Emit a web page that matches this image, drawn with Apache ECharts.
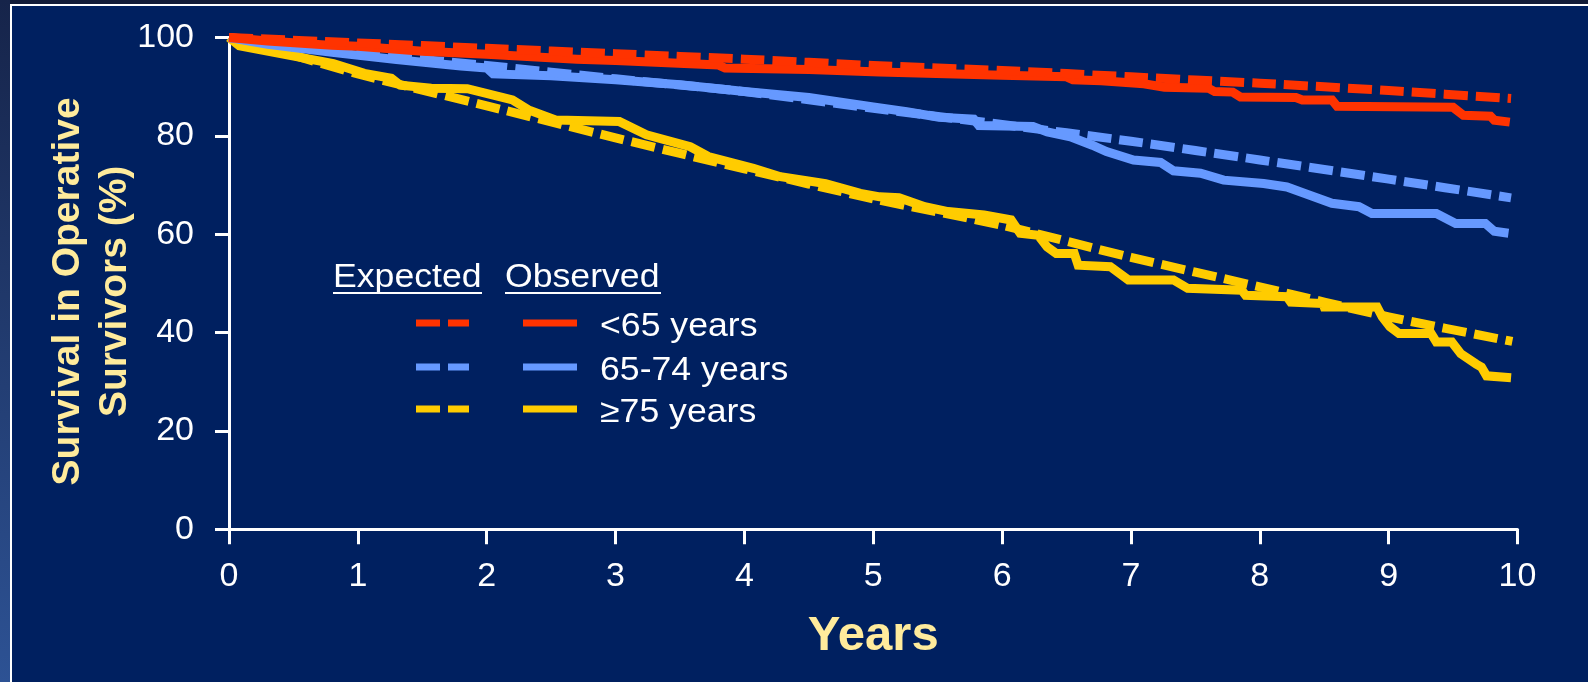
<!DOCTYPE html>
<html>
<head>
<meta charset="utf-8">
<script src="https://cdn.jsdelivr.net/npm/echarts@6/dist/echarts.min.js"></script>
<style>
html,body{margin:0;padding:0;background:#002060;}
#c{width:1588px;height:682px;}
</style>
</head>
<body>
<div id="c"></div>
<script>
// ---- data ----
const groupNames = ['<65 years', '65-74 years', '\u226575 years'];
const legendHeaders = ['Expected', 'Observed'];
const xTicks = [0, 1, 2, 3, 4, 5, 6, 7, 8, 9, 10];
const yTicks = [0, 20, 40, 60, 80, 100];

// Expected (dashed)
const redExpT = [0, 1, 2, 3, 4, 5, 6, 7, 8, 9, 9.95];
const redExpV = [100, 98.9, 97.8, 96.7, 95.6, 94.3, 93.3, 92.0, 90.7, 89.2, 87.6];
const blueExpT = [0, 1, 2, 3, 4, 5, 6, 7, 8, 9, 9.95];
const blueExpV = [100, 96.8, 94.3, 91.6, 89.0, 85.6, 82.3, 78.9, 75.1, 71.2, 67.4];
const yellowExpT = [0, 0.5, 1, 2, 3, 4, 5, 6, 7, 8, 9, 9.96];
const yellowExpV = [100, 96.4, 92.6, 86.1, 79.6, 73.3, 67.2, 61.8, 55.3, 49.3, 43.2, 38.2];

// Observed (solid)
const redObsT = [0, 0.3, 0.8, 1.0, 1.5, 2.0, 2.7, 3.0, 3.8, 3.85, 4.5, 5.05, 6.0, 6.5, 6.55, 6.77, 7.1, 7.26, 7.6, 7.65, 7.79, 7.85, 8.28, 8.33, 8.56, 8.6, 9.5, 9.58, 9.79, 9.82, 9.94];
const redObsV = [100, 99.3, 98.4, 98.2, 97.2, 96.6, 95.6, 95.3, 94.4, 93.8, 93.5, 93.0, 92.3, 92.0, 91.4, 91.2, 90.6, 89.9, 89.7, 89.0, 88.9, 87.9, 87.8, 87.3, 87.3, 86.0, 85.8, 84.2, 84.0, 83.2, 82.8];

const blueObsT = [0, 0.3, 0.8, 1.3, 1.8, 2.0, 2.05, 2.5, 3.0, 3.5, 4.0, 4.5, 5.0, 5.26, 5.51, 5.78, 5.82, 6.24, 6.35, 6.53, 6.70, 6.81, 7.02, 7.23, 7.33, 7.54, 7.72, 8.03, 8.21, 8.35, 8.56, 8.77, 8.87, 9.37, 9.52, 9.75, 9.82, 9.93];
const blueObsV = [100, 98.6, 97.0, 95.5, 94.2, 93.8, 92.6, 92.2, 91.4, 90.4, 89.0, 87.8, 85.9, 84.9, 83.8, 83.4, 82.1, 81.9, 80.8, 79.8, 78.1, 76.8, 75.1, 74.6, 72.9, 72.4, 71.0, 70.3, 69.6, 68.3, 66.3, 65.6, 64.2, 64.2, 62.2, 62.2, 60.6, 60.2];

const yellowObsT = [0, 0.08, 0.81, 1.05, 1.26, 1.33, 1.57, 1.85, 2.2, 2.33, 2.54, 3.03, 3.24, 3.58, 3.72, 4.07, 4.28, 4.63, 4.9, 5.05, 5.2, 5.40, 5.58, 5.86, 6.07, 6.14, 6.28, 6.35, 6.42, 6.56, 6.59, 6.84, 6.98, 7.33, 7.44, 7.86, 7.89, 8.21, 8.24, 8.49, 8.5, 8.91, 8.95, 9.01, 9.08, 9.33, 9.37, 9.49, 9.56, 9.68, 9.72, 9.76, 9.95];
const yellowObsV = [100, 98.3, 94.7, 92.7, 91.7, 90.3, 89.7, 89.6, 87.3, 85.2, 83.2, 82.9, 80.2, 77.8, 75.8, 73.4, 71.7, 70.3, 68.3, 67.6, 67.4, 65.6, 64.6, 63.9, 62.9, 60.2, 59.8, 57.4, 56.1, 56.1, 53.7, 53.4, 50.7, 50.7, 49.0, 48.6, 47.6, 47.3, 46.2, 45.9, 45.2, 45.2, 43.2, 41.2, 39.8, 39.8, 38.1, 38.1, 35.7, 33.6, 33.0, 31.2, 30.8];

// ---- styles ----
const RED = '#FF3300', BLUE = '#6699FF', YELLOW = '#FFCC00';
const TITLE = '#FFEB9C';
const FONT = '"Liberation Sans", Arial, sans-serif';
const DASH = [24, 8];
const LW = 9;

function pairs(T, V) { return T.map((t, i) => [t, V[i]]); }

function lineSeries(name, T, V, color, dashed) {
  return {
    name: name,
    type: 'line',
    data: pairs(T, V),
    showSymbol: false,
    symbol: 'none',
    smooth: dashed ? 0.25 : false,
    animation: false,
    lineStyle: { color: color, width: LW, type: dashed ? DASH : 'solid', cap: 'butt', join: 'miter' },
    emphasis: { disabled: true }
  };
}

const chart = echarts.init(document.getElementById('c'), null, { renderer: 'canvas' });

// legend drawn as graphic (two-column layout with underlined headers)
const rowY = [323, 367, 409];
const colors = [RED, BLUE, YELLOW];
const legendGraphics = [];
legendGraphics.push({ type: 'text', x: 333, y: 278, scaleX: 1.08,
  style: { text: legendHeaders[0], fill: '#fff', fontSize: 33, fontFamily: FONT, verticalAlign: 'middle', align: 'left' } });
legendGraphics.push({ type: 'text', x: 505, y: 278, scaleX: 1.08,
  style: { text: legendHeaders[1], fill: '#fff', fontSize: 33, fontFamily: FONT, verticalAlign: 'middle', align: 'left' } });
legendGraphics.push({ type: 'line', shape: { x1: 333, y1: 293, x2: 482, y2: 293 }, style: { stroke: '#fff', lineWidth: 2 } });
legendGraphics.push({ type: 'line', shape: { x1: 505, y1: 293, x2: 661, y2: 293 }, style: { stroke: '#fff', lineWidth: 2 } });
groupNames.forEach((g, i) => {
  legendGraphics.push({ type: 'line', shape: { x1: 416, y1: rowY[i], x2: 469, y2: rowY[i] },
    style: { stroke: colors[i], lineWidth: 7, lineDash: DASH, lineCap: 'butt' } });
  legendGraphics.push({ type: 'line', shape: { x1: 523, y1: rowY[i], x2: 577, y2: rowY[i] },
    style: { stroke: colors[i], lineWidth: 7, lineCap: 'butt' } });
  legendGraphics.push({ type: 'text', x: 600, y: rowY[i] + 4, scaleX: 1.08,
    style: { text: g, fill: '#fff', fontSize: 33, fontFamily: FONT, verticalAlign: 'middle', align: 'left' } });
});

// slide frame
const frame = [
  { type: 'rect', shape: { x: 0, y: 0, width: 1588, height: 4 }, style: { fill: '#131c38' } },
  { type: 'rect', shape: { x: 0, y: 0, width: 10, height: 682 },
    style: { fill: new echarts.graphic.LinearGradient(0, 0, 0, 1, [{ offset: 0, color: '#16244a' }, { offset: 1, color: '#2d5294' }]) } },
  { type: 'rect', shape: { x: 10, y: 4, width: 1578, height: 2 }, style: { fill: '#ffffff' } },
  { type: 'rect', shape: { x: 10, y: 4, width: 2, height: 678 }, style: { fill: '#ffffff' } }
];

chart.setOption({
  backgroundColor: '#002060',
  animation: false,
  textStyle: { fontFamily: FONT },
  grid: { left: 229, right: 70.5, top: 37.5, bottom: 152.7, containLabel: false },
  xAxis: {
    type: 'value', min: xTicks[0], max: xTicks[xTicks.length - 1], interval: 1,
    name: 'Years', nameLocation: 'middle', nameGap: 81, nameMoveOverlap: false,
    nameTextStyle: { color: TITLE, fontSize: 49, fontWeight: 'bold', fontFamily: FONT, lineHeight: 52 },
    axisLine: { show: true, lineStyle: { color: '#fff', width: 3 } },
    axisTick: { show: true, inside: false, length: 15, lineStyle: { color: '#fff', width: 3 } },
    axisLabel: { color: '#fff', fontSize: 34, fontFamily: FONT, margin: 30, lineHeight: 34 },
    splitLine: { show: false }
  },
  yAxis: {
    type: 'value', min: yTicks[0], max: yTicks[yTicks.length - 1], interval: 20,
    name: 'Survival in Operative\nSurvivors (%)', nameLocation: 'middle', nameGap: 90, nameMoveOverlap: false,
    nameTextStyle: { color: TITLE, fontSize: 39, fontWeight: 'bold', fontFamily: FONT, lineHeight: 47, align: 'center', padding: [0, 16, 0, 0] },
    axisLine: { show: true, lineStyle: { color: '#fff', width: 3 } },
    axisTick: { show: true, inside: false, length: 14, lineStyle: { color: '#fff', width: 3 } },
    axisLabel: { color: '#fff', fontSize: 34, fontFamily: FONT, margin: 35 },
    splitLine: { show: false }
  },
  series: [
    lineSeries('Observed ' + groupNames[2], yellowObsT, yellowObsV, YELLOW, false),
    lineSeries('Expected ' + groupNames[2], yellowExpT, yellowExpV, YELLOW, true),
    lineSeries('Observed ' + groupNames[1], blueObsT, blueObsV, BLUE, false),
    lineSeries('Expected ' + groupNames[1], blueExpT, blueExpV, BLUE, true),
    lineSeries('Observed ' + groupNames[0], redObsT, redObsV, RED, false),
    lineSeries('Expected ' + groupNames[0], redExpT, redExpV, RED, true)
  ],
  graphic: frame.concat(legendGraphics)
});
</script>
</body>
</html>
